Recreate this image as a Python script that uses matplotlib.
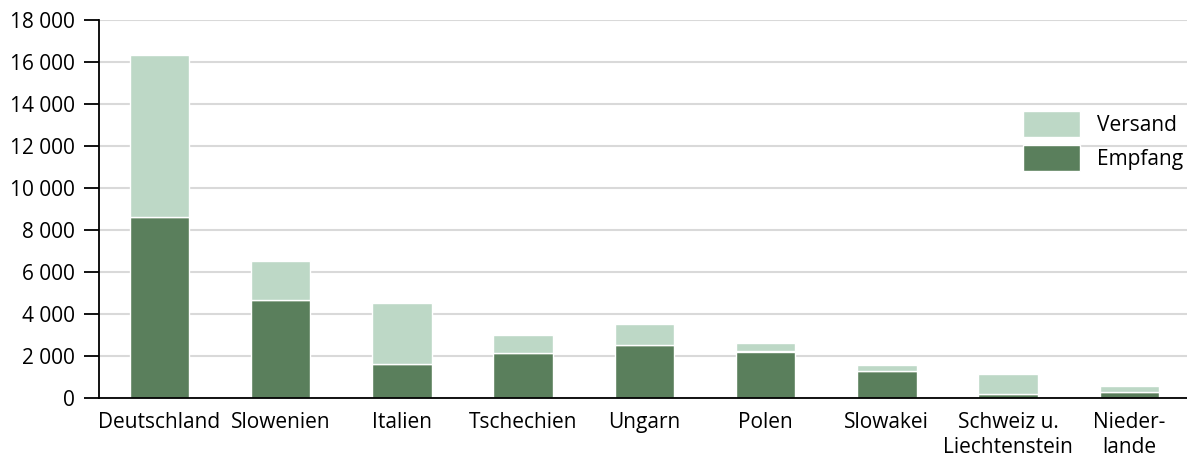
import matplotlib
matplotlib.use("Agg")
import matplotlib.pyplot as plt
from matplotlib.ticker import FuncFormatter

categories = ["Deutschland", "Slowenien", "Italien", "Tschechien", "Ungarn",
              "Polen", "Slowakei", "Schweiz u.\nLiechtenstein", "Nieder-\nlande"]
empfang = [8600, 4650, 1620, 2150, 2530, 2200, 1290, 190, 250]
versand = [7700, 1850, 2880, 830, 970, 400, 270, 940, 320]
yticks = [0, 2000, 4000, 6000, 8000, 10000, 12000, 14000, 16000, 18000]

light = "#bdd8c6"
dark = "#5a7f5c"

plt.rcParams['font.family'] = ['Open Sans', 'DejaVu Sans']

fig = plt.figure(figsize=(11.87, 4.61), dpi=100)
ax = fig.add_axes([98.7 / 1187, 1 - 397.7 / 461, (1190 - 98.7) / 1187, (397.7 - 19.7) / 461])

x = list(range(len(categories)))
ax.bar(x, empfang, width=0.49, color=dark, edgecolor="white", linewidth=1, label="Empfang", zorder=3)
ax.bar(x, versand, width=0.49, bottom=empfang, color=light, edgecolor="white", linewidth=1,
       label="Versand", zorder=3)

ax.set_xlim(-0.5, len(categories) - 0.5)
ax.set_ylim(0, 18000)
ax.set_yticks(yticks)
ax.yaxis.set_major_formatter(FuncFormatter(lambda v, p: f"{int(v):,}".replace(",", " ")))
ax.set_xticks(x)
ax.set_xticklabels(categories, linespacing=1.3)
ax.tick_params(axis="x", length=0, pad=10, labelsize=15)
ax.tick_params(axis="y", length=11, width=1.3, pad=6, labelsize=15)
ax.grid(axis="y", color="#d9d9d9", linewidth=1.5, zorder=0)
for s in ["top", "right"]:
    ax.spines[s].set_visible(False)
ax.spines["left"].set_linewidth(1.3)
ax.spines["bottom"].set_linewidth(1.3)
ax.spines["bottom"].set_zorder(4)

handles, labels = ax.get_legend_handles_labels()
leg = ax.legend(handles[::-1], labels[::-1], loc="upper right", bbox_to_anchor=(0.9936, 0.758),
                frameon=False, fontsize=15, handlelength=2.75, handleheight=1.55,
                handletextpad=0.8, labelspacing=0.38, borderpad=0, borderaxespad=0)

fig.savefig("out.png", dpi=100)
